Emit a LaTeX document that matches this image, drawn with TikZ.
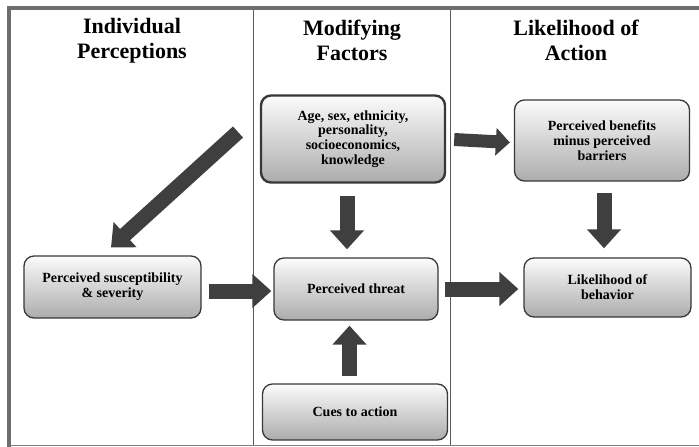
\documentclass[tikz,border=0pt]{standalone}
\usepackage{fontspec}
\setmainfont{Liberation Serif}
\usetikzlibrary{arrows.meta}
\definecolor{arrowc}{HTML}{3F3F3F}
\definecolor{framec}{HTML}{6E6E6E}
\definecolor{divc}{HTML}{5A5A5A}
\definecolor{boxline}{HTML}{383838}
\begin{document}
\begin{tikzpicture}[x=1pt,y=-1pt,
  box/.style={draw=boxline, line width=1.3pt, rounded corners=10pt,
    top color=gray!3, bottom color=gray!65, align=center, inner sep=0pt,
    font=\fontsize{14}{14.8}\selectfont\bfseries},
  head/.style={align=center, inner sep=0pt, font=\fontsize{22}{25}\selectfont\bfseries},
  blk/.style={draw=arrowc, line width=15pt, -{Triangle[length=19pt,width=33pt]}},
  blks/.style={draw=arrowc, line width=13pt, -{Triangle[length=14pt,width=27pt]}}]
\useasboundingbox (0,0) rectangle (699,447);
% frame
\draw[framec, line width=4pt] (8.5,447) -- (8.5,8) -- (699,8);
\draw[gray, line width=1pt] (10.5,445.5) -- (699,445.5);
\draw[divc, line width=0.8pt] (253.5,10) -- (253.5,445);
\draw[divc, line width=0.8pt] (450.5,10) -- (450.5,445);
% headers
\node[head] (h1) at (132,40.5) {Individual\\Perceptions};
\node[head] (h2) at (352,40.5) {Modifying\\Factors};
\node[head] (h3) at (576,40.5) {Likelihood of\\Action};
% boxes
\node[box, line width=2.4pt, minimum width=184pt, minimum height=87pt] (age) at (353,139)
  {Age, sex, ethnicity,\\personality,\\socioeconomics,\\knowledge};
\node[box, minimum width=175pt, minimum height=81pt] (ben) at (602,140.5)
  {Perceived benefits\\minus perceived\\barriers};
\node[box, minimum width=177pt, minimum height=62pt] (sus) at (112.5,287)
  {Perceived susceptibility\\\& severity};
\node[box, minimum width=164pt, minimum height=62pt] (thr) at (356,289)
  {Perceived threat};
\node[box, minimum width=167pt, minimum height=59pt] (lik) at (607.5,287.5)
  {Likelihood of\\behavior};
\node[box, minimum width=185pt, minimum height=56pt] (cue) at (355,412)
  {Cues to action};
% arrows
\coordinate (dstart) at (238,132);
\draw[blk, line width=15pt, -{Triangle[length=19pt,width=33pt]}] (dstart) -- ([xshift=-1.5pt,yshift=8pt]sus.north);
\draw[blk] ([xshift=7pt,yshift=-4pt]sus.east) -- ([xshift=-2pt,yshift=-2pt]thr.west);
\draw[blk] ([xshift=6pt]thr.east) -- ([xshift=-5pt,yshift=-1.5pt]lik.west);
\draw[blks] ([xshift=8pt,yshift=-0.5pt]age.east) -- ([xshift=-4pt,yshift=-2pt]ben.west);
\draw[blk] ([xshift=-6pt,yshift=-12pt]age.south) -- ([xshift=-9pt,yshift=8pt]thr.north);
\draw[blk] ([xshift=2pt,yshift=-11pt]ben.south) -- ([xshift=-3.5pt,yshift=9pt]lik.north);
\draw[blk] ([xshift=-5.5pt,yshift=7pt]cue.north) -- ([xshift=-6.5pt,yshift=-5pt]thr.south);
\end{tikzpicture}
\end{document}
